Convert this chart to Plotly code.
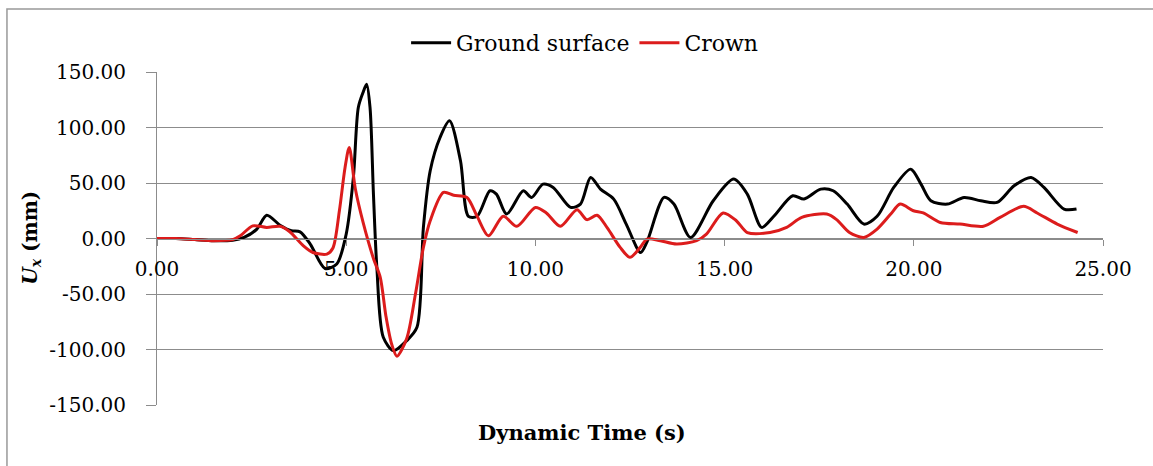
import plotly.graph_objects as go

# ---- data ----
t_ground = [0, 0.5, 1.0, 1.5, 2.0, 2.3, 2.64, 2.9, 3.25, 3.55, 3.78, 4.05, 4.44, 4.75, 5.0,
            5.19, 5.32, 5.45, 5.54, 5.63, 5.72, 5.81, 5.98, 6.25, 6.6, 6.87, 7.04, 7.22, 7.48,
            7.73, 8.02, 8.23, 8.46, 8.8, 8.97, 9.24, 9.68, 9.9, 10.2, 10.47, 10.93, 11.19,
            11.46, 11.72, 12.07, 12.4, 12.78, 12.95, 13.4, 13.66, 14.1, 14.7, 15.24, 15.6,
            15.98, 16.3, 16.8, 17.1, 17.54, 17.87, 18.24, 18.68, 19.03, 19.47, 19.92, 20.19,
            20.45, 20.89, 21.33, 21.77, 22.2, 22.65, 23.1, 23.44, 23.97, 24.3]
u_ground = [0, 0, -1, -2, -1.5, 1, 8.5, 21, 12, 7, 6, -5, -27, -23, 4,
            55, 118, 132, 139, 118, 40, -26, -89, -101, -92, -80, 10, 61, 91,
            106, 70, 20, 20, 43, 40, 22, 43, 37, 49, 46, 28, 31,
            55, 44.5, 35.5, 13, -12.6, -3, 37, 31, 1, 34, 53.5, 40,
            10, 20, 38.5, 35.5, 44.5, 43, 31, 13, 20, 46, 62.5, 49,
            34, 31, 37, 34, 32.5, 47.5, 55, 46, 26.5, 26.5]

t_crown = [0, 0.5, 1.0, 1.5, 2.0, 2.2, 2.53, 2.9, 3.25, 3.5, 3.87, 4.12, 4.49, 4.65, 4.82,
           4.97, 5.08, 5.24, 5.45, 5.72, 5.9, 6.05, 6.2, 6.34, 6.6, 6.83, 7.04, 7.22, 7.57,
           7.84, 8.19, 8.46, 8.76, 9.15, 9.51, 10.0, 10.29, 10.66, 11.1, 11.36, 11.63, 11.9,
           12.24, 12.5, 12.77, 12.95, 13.3, 13.73, 14.26, 14.52, 14.96, 15.31, 15.6, 16.2,
           16.64, 17.04, 17.7, 17.96, 18.3, 18.68, 19.03, 19.39, 19.64, 19.99, 20.25, 20.7,
           21.22, 21.84, 22.28, 22.9, 23.26, 23.79, 24.33]
u_crown = [0, 0, -1, -2, -1, 2.4, 11.4, 10, 11, 6.3, -6.6, -12.6, -14, -8.5, 25,
           64, 82, 45, 14, -18, -35, -70, -95, -106, -90, -50, -8, 16, 41.5,
           39, 37, 20, 2.4, 20, 11, 28, 23, 11, 26, 17, 21, 9.5,
           -8, -17, -8, -0.5, -2, -5, -2, 4, 23, 16, 5.4, 5.4,
           10, 19, 22, 17, 5.4, 1, 8.5, 22, 31, 25, 23, 14.4,
           13, 11, 19, 29, 23, 13, 5.4]

x_ticks = [0, 5, 10, 15, 20, 25]
y_ticks = [-150, -100, -50, 0, 50, 100, 150]

# ---- figure ----
SERIF = "DejaVu Serif, Liberation Serif, serif"
GRID = "#8c8c8c"

fig = go.Figure()
fig.add_trace(go.Scatter(x=t_ground, y=u_ground, mode="lines", name="Ground surface",
                         line=dict(color="#000000", width=3, shape="spline", smoothing=0.8)))
fig.add_trace(go.Scatter(x=t_crown, y=u_crown, mode="lines", name="Crown",
                         line=dict(color="#dc1c1c", width=3, shape="spline", smoothing=0.8)))

fig.update_layout(
    width=1153, height=466,
    margin=dict(l=157, r=50, t=72, b=61),
    paper_bgcolor="white", plot_bgcolor="white",
    font=dict(family=SERIF, size=20, color="#000000"),
    showlegend=True,
    legend=dict(orientation="h", x=0.452, xanchor="center", y=1.087, yanchor="middle",
                font=dict(family=SERIF, size=22), bgcolor="rgba(0,0,0,0)",
                itemwidth=40, tracegroupgap=0),
    xaxis=dict(range=[0, 25], tickvals=x_ticks, ticktext=[f"{v:.2f}" for v in x_ticks],
               anchor="free", position=0.5, showgrid=False, zeroline=False,
               showline=True, linecolor=GRID, linewidth=1,
               ticks="outside", ticklen=6, tickcolor=GRID, tickwidth=1,
               ticklabelstandoff=6,
               tickfont=dict(family=SERIF, size=20, color="#000000")),
    yaxis=dict(range=[-150, 150], tickvals=y_ticks, ticktext=[f"{v:.2f}" for v in y_ticks],
               showgrid=True, gridcolor=GRID, gridwidth=1, zeroline=False,
               showline=True, linecolor=GRID, linewidth=1,
               ticks="outside", ticklen=10, tickcolor=GRID, tickwidth=1,
               ticklabelstandoff=16,
               tickfont=dict(family=SERIF, size=20, color="#000000")),
    annotations=[
        dict(text="<b>Dynamic Time (s)</b>", xref="paper", yref="paper",
             x=0.449, y=-0.084, xanchor="center", yanchor="middle", showarrow=False,
             font=dict(family=SERIF, size=21)),
        dict(text="<b><i>U</i><sub><i>x</i></sub> (mm)</b>", xref="paper", yref="paper",
             x=-0.134, y=0.503, xanchor="center", yanchor="middle", showarrow=False,
             textangle=-90, font=dict(family=SERIF, size=20)),
    ],
    shapes=[
        dict(type="rect", xref="paper", yref="paper", x0=-0.1586, x1=1.07, y0=-0.22, y1=1.189,
             line=dict(color="#999999", width=1.5), fillcolor="rgba(0,0,0,0)", layer="below"),
    ],
)

fig.write_html("out.html")
